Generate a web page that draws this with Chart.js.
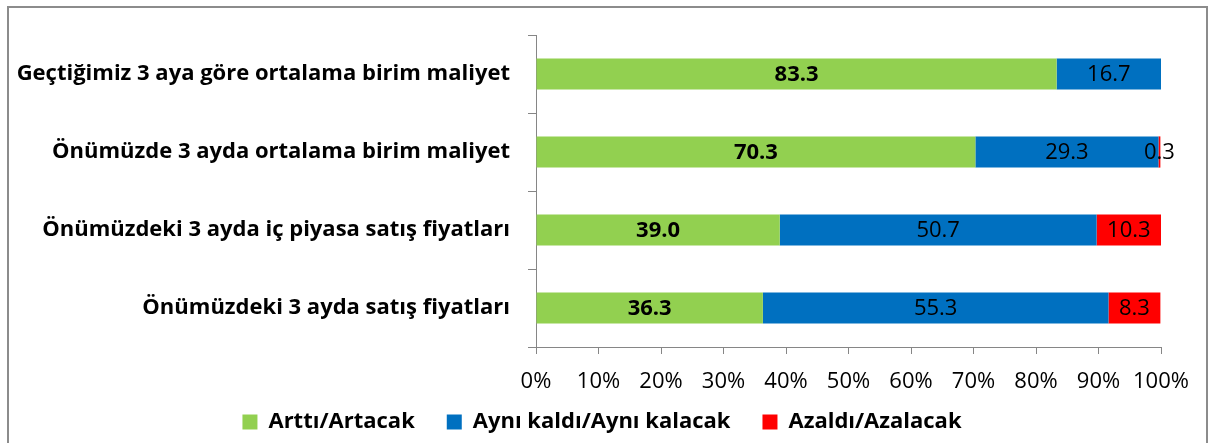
<!DOCTYPE html>
<html><head><meta charset="utf-8">
<script src="https://cdn.jsdelivr.net/npm/chart.js@4/dist/chart.umd.min.js"></script>
<style>
html,body{margin:0;padding:0;background:#fff;}
#wrap{position:relative;width:1208px;height:443px;overflow:hidden;}
#frame{position:absolute;left:7px;top:6px;width:1201px;height:470px;border:2px solid #8c8c8c;box-sizing:border-box;pointer-events:none;}
canvas{position:absolute;left:0;top:0;}
</style></head><body>
<div id="wrap"><canvas id="c" width="1208" height="443"></canvas><div id="frame"></div></div>
<script>
const categories = [
  'Geçtiğimiz 3 aya göre ortalama birim maliyet',
  'Önümüzde 3 ayda ortalama birim maliyet',
  'Önümüzdeki 3 ayda iç piyasa satış fiyatları',
  'Önümüzdeki 3 ayda satış fiyatları'
];
const seriesNames = ['Arttı/Artacak', 'Aynı kaldı/Aynı kalacak', 'Azaldı/Azalacak'];
const increased = [83.3, 70.3, 39.0, 36.3];
const unchanged = [16.7, 29.3, 50.7, 55.3];
const decreased = [0, 0.3, 10.3, 8.3];
const xTicks = [0, 10, 20, 30, 40, 50, 60, 70, 80, 90, 100];

const FONT = '"Open Sans", Lato, sans-serif';
const AXIS = '#868686';

const labelPlugin = {
  id: 'barLabels',
  afterLayout(chart) {
    // let labels extend past their scale boxes (avoid clipping)
    chart.scales.y.left = 0;
    chart.scales.x.bottom = chart.height;
  },
  afterDatasetsDraw(chart) {
    const ctx = chart.ctx;
    ctx.save();
    ctx.textAlign = 'center';
    ctx.textBaseline = 'middle';
    ctx.fillStyle = '#000';
    chart.data.datasets.forEach((ds, di) => {
      const meta = chart.getDatasetMeta(di);
      meta.data.forEach((el, i) => {
        const v = ds.data[i];
        if (!v) return;
        const p = el.getProps(['x', 'y', 'base'], true);
        ctx.font = (di === 0 ? 'bold ' : '') + '22px ' + FONT;
        ctx.fillText(v.toFixed(1), (p.x + p.base) / 2, p.y + 1);
      });
    });
    ctx.restore();
  }
};

new Chart(document.getElementById('c'), {
  type: 'bar',
  data: {
    labels: categories,
    datasets: [
      { label: seriesNames[0], data: increased, backgroundColor: '#92D050' },
      { label: seriesNames[1], data: unchanged, backgroundColor: '#0070C0' },
      { label: seriesNames[2], data: decreased, backgroundColor: '#FF0000' }
    ]
  },
  options: {
    indexAxis: 'y',
    responsive: false,
    animation: false,
    devicePixelRatio: 1,
    barPercentage: 0.4,
    categoryPercentage: 1,
    layout: { padding: { top: 35, right: 47, bottom: 4, left: 43 } },
    scales: {
      y: {
        type: 'category',
        stacked: true,
        afterFit(s) { s.width = 493; },
        grid: { display: true, drawOnChartArea: false, drawTicks: true, tickLength: 8, color: AXIS, offset: true },
        border: { display: true, color: AXIS, width: 1 },
        ticks: { color: '#000', font: { family: FONT, size: 22, weight: 'bold' }, padding: 18 }
      },
      x: {
        type: 'linear',
        stacked: true,
        min: 0, max: 100,
        afterFit(s) { s.height = 32; },
        afterBuildTicks(s) { s.ticks = xTicks.map(v => ({ value: v })); },
        grid: { display: true, drawOnChartArea: false, drawTicks: true, tickLength: 7, color: AXIS },
        border: { display: true, color: AXIS, width: 1 },
        ticks: { color: '#000', font: { family: FONT, size: 22 }, padding: 15, maxRotation: 0, autoSkip: false, callback: v => v + '%' }
      }
    },
    plugins: {
      legend: {
        position: 'bottom',
        maxHeight: 60,
        labels: { boxWidth: 15, boxHeight: 15, padding: 32, color: '#000', font: { family: FONT, size: 22, weight: 'bold' } }
      },
      tooltip: { enabled: false }
    }
  },
  plugins: [labelPlugin]
});
</script>
</body></html>
